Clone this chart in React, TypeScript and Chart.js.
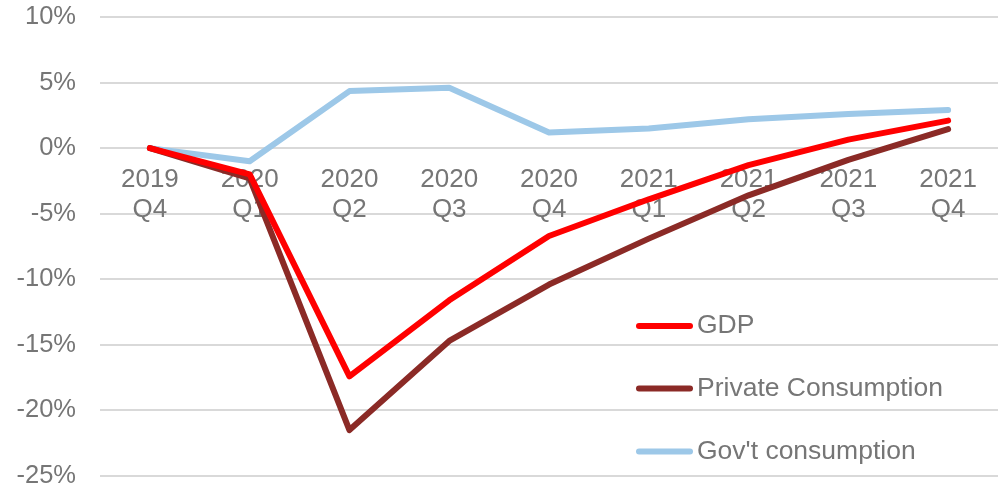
import React, { useEffect, useRef } from "react";
import { Chart, registerables } from "chart.js";

Chart.register(...registerables);

const categories: string[][] = [
  ["2019", "Q4"], ["2020", "Q1"], ["2020", "Q2"], ["2020", "Q3"], ["2020", "Q4"],
  ["2021", "Q1"], ["2021", "Q2"], ["2021", "Q3"], ["2021", "Q4"],
];
const gdp = [0, -2.0, -17.4, -11.6, -6.7, -3.9, -1.3, 0.65, 2.1];
const privateConsumption = [0, -2.3, -21.5, -14.7, -10.4, -6.9, -3.6, -0.9, 1.45];
const govConsumption = [0, -1.0, 4.35, 4.6, 1.2, 1.5, 2.2, 2.6, 2.9];
const seriesNames = ["GDP", "Private Consumption", "Gov't consumption"];
const seriesColors = ["#FF0000", "#8B2A26", "#9DC8E8"];
const yTicks = [10, 5, 0, -5, -10, -15, -20, -25];

const FONT = "'Liberation Sans', Arial, sans-serif";
const TEXT = "#767676";

export default function App() {
  const ref = useRef<HTMLCanvasElement | null>(null);
  useEffect(() => {
    if (!ref.current) return;
    const legendPlugin = {
      id: "insideLegend",
      afterDatasetsDraw(chart: any) {
        const ctx = chart.ctx;
        ctx.save();
        const ys = [326, 388.5, 451.5];
        seriesNames.forEach((n, i) => {
          const y = ys[i];
          ctx.strokeStyle = seriesColors[i];
          ctx.lineWidth = 6;
          ctx.lineCap = "round";
          ctx.beginPath();
          ctx.moveTo(639, y);
          ctx.lineTo(690, y);
          ctx.stroke();
          ctx.fillStyle = TEXT;
          ctx.font = `26.5px ${FONT}`;
          ctx.textBaseline = "middle";
          ctx.textAlign = "left";
          ctx.fillText(n, 697, y);
        });
        ctx.restore();
      },
    };
    const chart = new Chart(ref.current, {
      type: "line",
      data: {
        labels: categories,
        datasets: [
          { label: seriesNames[0], data: gdp, borderColor: seriesColors[0], backgroundColor: seriesColors[0] },
          { label: seriesNames[1], data: privateConsumption, borderColor: seriesColors[1], backgroundColor: seriesColors[1] },
          { label: seriesNames[2], data: govConsumption, borderColor: seriesColors[2], backgroundColor: seriesColors[2] },
        ].map((d) => ({
          ...d,
          borderWidth: 6,
          pointRadius: 0,
          tension: 0,
          borderCapStyle: "round" as const,
          borderJoinStyle: "round" as const,
        })),
      },
      options: {
        animation: false,
        responsive: false,
        maintainAspectRatio: false,
        layout: { padding: { top: 17, bottom: 12, left: 0, right: 1 } },
        plugins: { legend: { display: false }, tooltip: { enabled: false } },
        scales: {
          x: {
            position: { y: 0 } as any,
            offset: true,
            grid: { display: false, drawTicks: false },
            border: { display: false },
            ticks: {
              color: TEXT,
              font: { family: FONT, size: 26, lineHeight: 1.15 },
              padding: 17,
              maxRotation: 0,
              autoSkip: false,
            },
          },
          y: {
            min: -25,
            max: 10,
            afterBuildTicks(scale: any) {
              scale.ticks = yTicks.map((v) => ({ value: v }));
            },
            afterFit(scale: any) {
              scale.width = 100;
            },
            grid: { color: "#D9D9D9", lineWidth: 2, drawTicks: true, tickLength: 24, tickColor: "rgba(0,0,0,0)" },
            border: { display: false },
            ticks: {
              color: TEXT,
              font: { family: FONT, size: 25.5, lineHeight: 0.9 },
              padding: 0,
              callback: (v: any) => `${v}%`,
            },
          },
        },
      },
      plugins: [legendPlugin],
    });
    return () => chart.destroy();
  }, []);
  return (
    <div style={{ position: "absolute", left: 0, top: 0, width: 999, height: 488, background: "#fff" }}>
      <canvas ref={ref} width={999} height={488} style={{ display: "block" }} />
    </div>
  );
}
